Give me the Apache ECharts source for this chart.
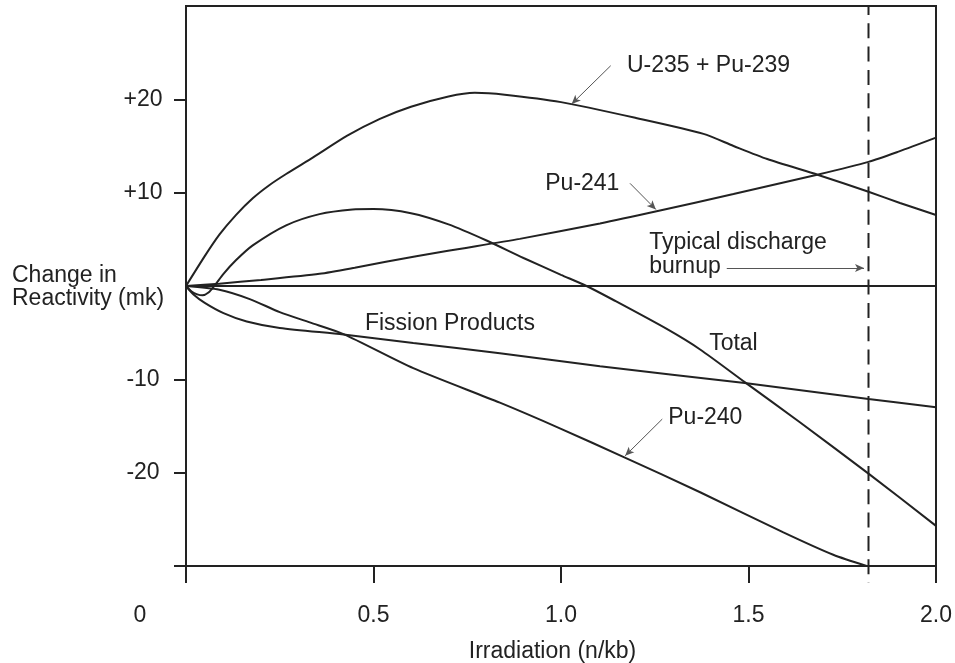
<!DOCTYPE html>
<html>
<head>
<meta charset="utf-8">
<script src="https://cdn.jsdelivr.net/npm/echarts@6/dist/echarts.min.js"></script>
<style>
html,body{margin:0;padding:0;background:#fff;}
#chart{width:955px;height:663px;}
</style>
</head>
<body>
<div id="chart"></div>
<script>
// ---- data ----
const xTicks = [0, 0.5, 1.0, 1.5, 2.0];
const yTickLabels = [-20, -10, 10, 20];
const yTickMarks = [-30, -20, -10, 10, 20];

const uPuX = [0, 0.05, 0.089, 0.133, 0.178, 0.222, 0.267, 0.34, 0.43, 0.517, 0.6, 0.7, 0.77, 0.85, 1.0, 1.2, 1.38, 1.46, 1.55, 1.686, 1.82, 1.904, 2.0];
const uPuY = [0, 3.2, 5.5, 7.6, 9.4, 10.8, 12.0, 13.8, 16.1, 17.9, 19.2, 20.3, 20.7, 20.5, 19.7, 18.0, 16.3, 15.0, 13.6, 11.9, 10.1, 8.9, 7.6];

const pu241X = [0, 0.089, 0.2, 0.356, 0.45, 0.533, 0.695, 0.89, 1.104, 1.255, 1.46, 1.686, 1.82, 1.9, 2.0];
const pu241Y = [0, 0.25, 0.65, 1.3, 1.95, 2.6, 3.75, 5.05, 6.7, 8.0, 9.85, 11.95, 13.3, 14.4, 15.9];

const totalX = [0, 0.015, 0.03, 0.044, 0.06, 0.0755, 0.1, 0.133, 0.178, 0.267, 0.356, 0.444, 0.5, 0.6, 0.7, 0.8, 0.9, 1.0, 1.068, 1.14, 1.282, 1.371, 1.49, 1.637, 1.82, 2.0];
const totalY = [0, -0.6, -0.9, -1.0, -0.7, 0, 1.3, 2.75, 4.35, 6.5, 7.7, 8.2, 8.25, 7.8, 6.6, 4.9, 3.0, 1.2, 0, -1.5, -4.6, -6.8, -10.3, -14.6, -20.1, -25.7];

const fissionX = [0, 0.02, 0.05, 0.1, 0.162, 0.25, 0.42, 0.606, 0.837, 1.104, 1.49, 1.82, 2.0];
const fissionY = [0, -0.9, -1.8, -2.9, -3.8, -4.5, -5.2, -6.1, -7.2, -8.6, -10.4, -12.1, -13.0];

const pu240X = [0, 0.089, 0.17, 0.25, 0.33, 0.42, 0.606, 0.837, 1.0, 1.166, 1.371, 1.593, 1.726, 1.815];
const pu240Y = [0, -0.4, -1.4, -2.8, -3.9, -5.15, -8.8, -12.5, -15.3, -18.3, -22.1, -26.4, -28.8, -30.0];

const zeroX = [0, 2.0];
const zeroY = [0, 0];

const dischargeBurnup = 1.82;
const dischargeY = [30, -31.8];

const curveNames = ['U-235 + Pu-239', 'Pu-241', 'Total', 'Fission Products', 'Pu-240'];

function pairs(xs, ys) { return xs.map((x, i) => [x, ys[i]]); }

const INK = '#222';
const FONT = 'Liberation Sans, Arial, Helvetica, sans-serif';
const FS = 23;

const chart = echarts.init(document.getElementById('chart'), null, {renderer: 'canvas'});

function curve(name, xs, ys) {
  return {
    name: name, type: 'line', data: pairs(xs, ys),
    smooth: 0.25, showSymbol: false, symbol: 'none',
    lineStyle: {color: INK, width: 2}, silent: true, animation: false
  };
}

function textPoint(text, coord) {
  return {
    coord: coord, symbol: 'circle', symbolSize: 0,
    label: {show: true, position: 'right', distance: 0, formatter: text,
      color: INK, fontSize: FS, fontFamily: FONT, lineHeight: 24, align: 'left'}
  };
}

const arrows = [
  [[1.1325, 23.6], [1.0285, 19.5]],
  [[1.184, 11.0], [1.253, 8.2]],
  [[1.442, 1.93], [1.808, 1.93]],
  [[1.270, -14.26], [1.171, -18.2]]
];

const option = {
  backgroundColor: '#fff',
  animation: false,
  textStyle: {fontFamily: FONT},
  grid: {left: 186, top: 6, width: 750, height: 560, show: true,
    containLabel: false, outerBoundsMode: 'none',
    borderColor: INK, borderWidth: 2, backgroundColor: 'transparent'},
  xAxis: {
    type: 'value', min: 0, max: 2, interval: 0.5,
    axisLine: {show: true, onZero: false, lineStyle: {color: INK, width: 2}},
    axisTick: {show: true, length: 17, lineStyle: {color: INK, width: 2}},
    splitLine: {show: false},
    axisLabel: {
      show: true, margin: 38, color: INK, fontSize: FS, fontFamily: FONT,
      formatter: function (v) { return v === 0 ? '{z|0}' : v.toFixed(1); },
      rich: {z: {fontSize: FS, fontFamily: FONT, color: INK, padding: [0, 92, 0, 0]}}
    },
    name: 'Irradiation (n/kb)', nameLocation: 'middle', nameGap: 74,
    nameTextStyle: {color: INK, fontSize: FS, fontFamily: FONT, padding: [0, 17, 0, 0]}
  },
  yAxis: {
    type: 'value', min: -30, max: 30, interval: 10,
    axisLine: {show: true, onZero: false, lineStyle: {color: INK, width: 2}},
    axisTick: {show: true, length: 12, customValues: yTickMarks, lineStyle: {color: INK, width: 2}},
    splitLine: {show: false},
    axisLabel: {
      show: true, customValues: yTickLabels, margin: 43, align: 'center',
      color: INK, fontSize: FS, fontFamily: FONT,
      formatter: function (v) { return v > 0 ? '+' + v : String(v); }
    }
  },
  graphic: [{
    type: 'text', left: 12, top: 264,
    style: {text: 'Change in\nReactivity (mk)', fill: INK, font: FS + 'px ' + FONT, lineHeight: 23}
  }],
  series: [
    curve(curveNames[0], uPuX, uPuY),
    curve(curveNames[1], pu241X, pu241Y),
    curve(curveNames[2], totalX, totalY),
    curve(curveNames[3], fissionX, fissionY),
    curve(curveNames[4], pu240X, pu240Y),
    {
      name: 'zero', type: 'line', data: pairs(zeroX, zeroY), showSymbol: false, symbol: 'none',
      lineStyle: {color: INK, width: 2}, silent: true,
      markPoint: {
        silent: true, animation: false,
        data: [
          textPoint(curveNames[0], [1.176, 23.6]),
          textPoint(curveNames[1], [0.958, 11.0]),
          textPoint('Typical discharge\nburnup', [1.235, 3.39]),
          textPoint(curveNames[3], [0.477, -3.99]),
          textPoint(curveNames[2], [1.395, -6.2]),
          textPoint(curveNames[4], [1.286, -14.1])
        ]
      },
      markLine: {
        silent: true, animation: false,
        symbol: ['none', 'arrow'], symbolSize: [6, 9],
        label: {show: false},
        lineStyle: {color: '#555', width: 1, type: 'solid'},
        emphasis: {disabled: true},
        data: arrows.map(a => [{coord: a[0]}, {coord: a[1]}])
      }
    },
    {
      name: 'discharge', type: 'line', clip: false,
      data: dischargeY.map(y => [dischargeBurnup, y]),
      showSymbol: false, symbol: 'none', silent: true,
      lineStyle: {color: INK, width: 2, type: [15, 8.3], dashOffset: 6}
    }
  ]
};
chart.setOption(option);
</script>
</body>
</html>
